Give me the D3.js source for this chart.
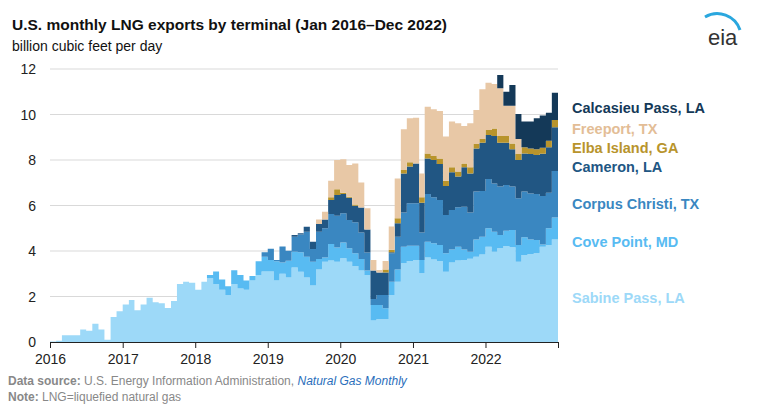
<!DOCTYPE html>
<html><head><meta charset="utf-8">
<script src="https://cdn.jsdelivr.net/npm/d3@7"></script>
<style>
body{margin:0;background:#fff;font-family:Arial,"Liberation Sans",sans-serif}
</style></head>
<body><svg id="chart" width="768" height="412"></svg>
<script>
// monthly values, Jan 2016 - Dec 2022 (billion cubic feet per day)
const sabine = [0.02,0.05,0.3,0.3,0.3,0.55,0.5,0.8,0.55,0.1,1.1,1.35,
  1.65,1.85,1.4,1.65,1.95,1.75,1.7,1.5,1.8,2.55,2.65,2.6,
  2.3,2.65,2.8,2.55,2.3,2.05,2.55,2.35,2.3,2.7,2.95,3.1,
  3.1,2.7,3.0,2.84,3.28,3.09,2.84,2.48,3.19,3.53,3.58,3.53,
  3.68,3.53,3.34,3.14,2.95,0.94,1.0,1.0,2.07,2.65,3.46,3.56,
  3.6,3.02,3.71,3.63,3.56,3.09,3.49,3.58,3.6,3.66,3.75,3.85,
  4.19,3.97,4.12,4.22,4.16,3.53,3.82,3.87,3.9,4.19,4.26,4.51];
const covePoint = [0,0,0,0,0,0,0,0,0,0,0,0,
  0,0,0,0,0,0,0,0,0,0,0,0,
  0,0,0.15,0.55,0.45,0.4,0.6,0.6,0.4,0.2,0.6,0.65,
  0.5,0.85,0.5,0.73,0.69,0.85,0.91,1.05,0.46,0.18,0.73,0.62,
  0.69,0.59,0.56,0.51,0.19,0.69,0.63,0.48,0.58,0.54,0.73,0.67,
  0.63,0.58,0.7,0.71,0.7,0.81,0.58,0.61,0.47,0.31,0.76,0.78,
  0.81,0.88,0.58,0.67,0.76,0.73,0.78,0.64,0.58,0.1,0.74,0.96];
const corpusChristi = [0,0,0,0,0,0,0,0,0,0,0,0,
  0,0,0,0,0,0,0,0,0,0,0,0,
  0,0,0,0,0,0,0,0,0,0,0,0.2,
  0.5,0.05,0.7,0.44,0.66,0.79,1.1,0.56,1.2,1.29,1.32,1.4,
  1.29,1.24,1.36,1.16,0.79,0.26,0.44,0.59,1.25,1.44,1.5,1.87,
  1.87,1.21,2.1,2.02,1.98,1.68,1.73,1.73,1.88,1.72,2.1,2.01,
  2.16,2.12,2.13,2.01,1.91,2.06,2.01,2.02,2.03,2.13,1.56,2.05];
const cameron = [0,0,0,0,0,0,0,0,0,0,0,0,
  0,0,0,0,0,0,0,0,0,0,0,0,
  0,0,0,0,0,0,0,0,0,0,0,0,
  0,0,0,0,0.07,0.05,0.22,0.32,0.34,0.39,0.61,0.91,
  0.85,0.98,0.73,1.1,1.02,1.25,0.99,0.99,0.05,0.59,1.72,1.61,
  1.75,1.31,1.56,1.64,1.58,1.28,1.66,1.35,1.73,1.72,1.9,2.12,
  1.94,2.08,1.93,1.86,1.64,1.68,1.68,1.73,1.71,1.86,2.0,1.92];
const elbaIsland = [0,0,0,0,0,0,0,0,0,0,0,0,
  0,0,0,0,0,0,0,0,0,0,0,0,
  0,0,0,0,0,0,0,0,0,0,0,0,
  0,0,0,0,0,0,0,0,0,0,0.12,0.25,
  0.05,0.05,0.05,0,0,0,0,0.13,0.1,0.22,0.15,0.19,
  0,0.24,0.22,0.18,0.25,0.23,0.22,0.22,0.17,0.27,0.19,0.16,
  0.22,0.34,0.29,0.29,0.26,0.26,0.27,0.25,0.25,0.26,0.29,0.32];
const freeport = [0,0,0,0,0,0,0,0,0,0,0,0,
  0,0,0,0,0,0,0,0,0,0,0,0,
  0,0,0,0,0,0,0,0,0,0,0,0,
  0,0,0,0,0,0,0,0,0.2,0.34,0.73,1.29,
  1.47,1.39,1.81,1.1,0.93,0.46,0.1,0.37,1.03,1.75,1.79,1.93,
  2.01,1.05,2.05,2.05,2.08,1.94,2.01,2.12,1.64,1.93,1.5,2.19,
  2.08,1.95,2.1,1.34,1.66,0.66,0,0,0,0,0,0];
const calcasieuPass = [0,0,0,0,0,0,0,0,0,0,0,0,
  0,0,0,0,0,0,0,0,0,0,0,0,
  0,0,0,0,0,0,0,0,0,0,0,0,
  0,0,0,0,0,0,0,0,0,0,0,0,
  0,0,0,0,0,0,0,0,0,0,0,0,
  0,0,0,0,0,0,0,0,0,0,0,0,
  0,0,0.59,0.61,0.91,1.1,1.13,1.18,1.36,1.42,1.23,1.2];

const terminals = ["Sabine Pass, LA","Cove Point, MD","Corpus Christi, TX","Cameron, LA","Elba Island, GA","Freeport, TX","Calcasieu Pass, LA"];
const seriesValues = [sabine,covePoint,corpusChristi,cameron,elbaIsland,freeport,calcasieuPass];
const colors = ["#9dd9f8","#58bbf2","#3a87c1","#215683","#b8942c","#e8c8a6","#143958"];
const yTicks = [0,2,4,6,8,10,12];
const yearTicks = [2016,2017,2018,2019,2020,2021,2022];

const svg = d3.select("#chart");
const x = d3.scaleTime().domain([new Date(2016,0,1), new Date(2023,0,1)]).range([50,558]);
const y = d3.scaleLinear().domain([0,12]).range([342,69]);

// gridlines
svg.selectAll("line.grid").data(yTicks.slice(1)).enter().append("line")
  .attr("x1",50).attr("x2",558).attr("y1",d=>y(d)).attr("y2",d=>y(d))
  .attr("stroke","#d9d9d9").attr("stroke-width",1);

// rows, with a repeated last month so the final step is drawn
const rows = sabine.map((_,i)=>{
  const r = {date:new Date(2016,i,1)};
  terminals.forEach((t,k)=>r[t]=seriesValues[k][i]);
  return r;
});
rows.push(Object.assign({},rows[rows.length-1],{date:new Date(2023,0,1)}));

const stack = d3.stack().keys(terminals)(rows);
const area = d3.area().curve(d3.curveStepAfter)
  .x(d=>x(d.data.date)).y0(d=>y(d[0])).y1(d=>y(d[1]));

svg.selectAll("path.layer").data(stack).enter().append("path")
  .attr("d",area).attr("fill",(d,i)=>colors[i]);

// y axis labels
svg.selectAll("text.ytick").data(yTicks).enter().append("text")
  .attr("x",36).attr("y",d=>y(d)+5).attr("text-anchor","end")
  .attr("font-size",14).attr("fill","#222").text(d=>d);

// x axis
const xAxis = d3.axisBottom(x).tickValues(yearTicks.map(yr=>new Date(yr,0,1)).concat([new Date(2023,0,1)]))
  .tickFormat(d=>d.getFullYear()<2023?d.getFullYear():"").tickSize(6).tickSizeOuter(0);
const gx = svg.append("g").attr("transform","translate(0,342)").call(xAxis);
gx.select(".domain").attr("stroke","#222");
gx.selectAll(".tick line").attr("stroke","#222");
gx.selectAll("text").attr("font-size",14).attr("fill","#222").attr("dy","0.9em")
  .attr("font-family","Arial,'Liberation Sans',sans-serif");

// direct labels
const labelY = [298,242,204,167,148,129,108];
const labelColors = ["#9dd9f8","#58bbf2","#3a87c1","#215683","#b8942c","#e3bd96","#143958"];
svg.selectAll("text.lab").data(terminals).enter().append("text")
  .attr("x",572).attr("y",(d,i)=>labelY[i]+5).attr("font-size",14.5).attr("font-weight","bold")
  .attr("fill",(d,i)=>labelColors[i]).text(d=>d);

// titles
svg.append("text").attr("x",12).attr("y",30).attr("font-size",15.5).attr("font-weight","bold")
  .attr("fill","#111").text("U.S. monthly LNG exports by terminal (Jan 2016\u2013Dec 2022)");
svg.append("text").attr("x",12).attr("y",51).attr("font-size",14).attr("fill","#111").text("billion cubic feet per day");

// eia logo
svg.append("path").attr("d","M705,17 A24,24 0 0 1 740,30").attr("fill","none").attr("stroke","#2aa7de").attr("stroke-width",3);
svg.append("text").attr("x",708).attr("y",45).attr("font-size",22).attr("fill","#333").text("eia");

// footer
const f1 = svg.append("text").attr("x",8).attr("y",385).attr("font-size",12).attr("fill","#888");
f1.append("tspan").attr("font-weight","bold").text("Data source: ");
f1.append("tspan").text("U.S. Energy Information Administration, ");
f1.append("tspan").attr("font-style","italic").attr("fill","#2a6ebb").text("Natural Gas Monthly");
const f2 = svg.append("text").attr("x",8).attr("y",401).attr("font-size",12).attr("fill","#888");
f2.append("tspan").attr("font-weight","bold").text("Note: ");
f2.append("tspan").text("LNG=liquefied natural gas");
</script></body></html>
